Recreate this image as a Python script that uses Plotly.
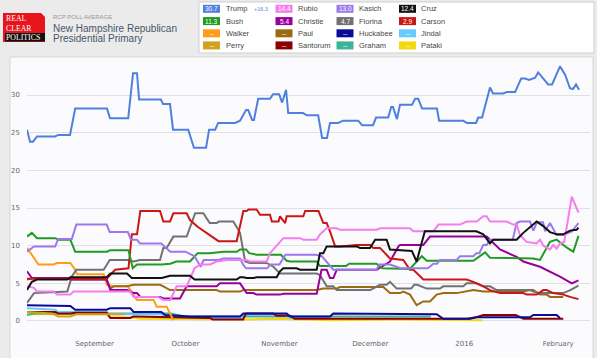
import pandas as pd
import plotly.graph_objects as go

BASE = pd.Timestamp("2015-09-01")

# RCP average, New Hampshire Republican primary.
# Each point: (days since 2015-09-01, percent)
trump = [(-22.3,25.4),(-21.3,23.8),(-20.3,23.8),(-19,24.5),(-13,24.5),(-12,24.7),(-8.1,24.7),(-6.4,28.2),(4.1,28.2),(5.1,26.9),(11.1,26.9),(12.7,32.9),(14,32.9),(14.7,29.4),(21.9,29.4),(22.6,28.8),(24.9,28.8),(25.9,25.4),(30.9,25.4),(32.8,23.0),(36.8,23.0),(37.8,25.4),(39.8,25.4),(40.8,26.3),(46.4,26.3),(48,26.6),(50,28.0),(50.7,28.0),(52,26.7),(52.6,26.7),(54,29.5),(57.9,29.5),(58.9,30.1),(60.9,30.1),(61.9,29.0),(63.2,30.7),(63.9,27.6),(68.8,27.6),(70.1,27.3),(73.8,27.3),(75.1,24.3),(76.7,24.3),(77.7,26.3),(80.4,26.3),(82,26.6),(87,26.6),(88.3,26.0),(91.9,26.0),(92.9,27.0),(96.9,27.0),(97.9,28.4),(98.5,28.4),(99.8,26.8),(100.8,28.7),(104.8,28.7),(105.8,29.5),(106.8,29.5),(108.1,28.2),(113,28.2),(113.7,26.6),(121.6,26.6),(122.9,26.3),(125.9,26.3),(126.6,27.0),(127.9,27.0),(130.5,31.0),(131.5,30.2),(134.8,30.2),(136.1,30.4),(138.8,30.4),(140.8,32.2),(142.1,32.2),(143.4,32.0),(145.4,32.3),(146.4,33.0),(149.7,31.4),(151,31.4),(153.6,33.8),(155.3,32.7),(156.9,30.9),(157.9,30.8),(158.9,31.4),(159.9,30.7)]
bush = [(-22.3,11.2),(-20.7,11.7),(-19,11.0),(-13,11.0),(-11.9,10.8),(-8,10.8),(-6.4,9.2),(4.1,9.2),(5.2,9.4),(11.2,9.4),(12.6,7.0),(14,7.5),(22,7.5),(25,7.6),(27,7.9),(31.5,7.9),(34,9.0),(38,9.0),(42.5,9.2),(47,9.2),(48,9.5),(50,9.5),(51,9.0),(53.5,8.8),(61.5,8.8),(63.4,8.0),(64.5,7.9),(73.3,7.9),(74.4,7.3),(83,7.3),(84,7.6),(93,7.6),(95,7.0),(104,6.9),(108,8.6),(109.6,8.0),(125,8.0),(128.9,9.1),(130.5,8.4),(144.8,8.3),(147,8.1),(150.3,10.5),(152.5,10.8),(156,9.7),(158,9.2),(159.7,11.3)]
kasich = [(-22.3,9.2),(-20,9.9),(-13,9.9),(-12,10.9),(-7.5,10.9),(-6,12.8),(4,12.8),(5,11.8),(11,11.8),(12,10.8),(14,10.8),(15,10.3),(22,10.3),(23,9.9),(25,9.2),(30,9.2),(33,8.6),(35,7.2),(36,8.1),(41,8.1),(42.5,8.3),(48,8.3),(49,7.5),(50,7.0),(57,7.0),(58,7.5),(61,7.5),(63,8.8),(73,8.8),(75,8.6),(78.8,6.8),(93,6.8),(94,7.5),(97.5,7.5),(101,7.0),(110,7.0),(111.8,7.6),(113,7.6),(114,8.1),(119.5,8.1),(120.6,8.6),(125,8.6),(126,9.0),(127,9.0),(128.3,10.1),(129.4,10.1),(130.5,10.8),(138,10.8),(139.3,13.0),(140.4,13.2),(143.7,13.2),(144.8,12.0),(146,13.1),(148,13.1),(148.7,11.9),(150.3,13.0),(152.5,11.4),(154.7,11.4),(157.5,11.9),(159.7,13.0)]
cruz = [(-22.3,4.1),(-20.7,5.2),(-19,5.5),(-9,5.5),(-8,5.8),(4,5.8),(5.2,6.3),(10.7,6.3),(12.3,5.7),(22.2,5.7),(24.9,6.0),(31.5,6.0),(33,5.5),(46.9,5.5),(48,5.8),(49.1,5.8),(50.2,5.7),(52.4,5.7),(53.5,5.8),(60.1,5.8),(61.2,6.6),(62.3,7.0),(66.7,7.0),(67.8,6.8),(73.3,6.8),(74.4,9.0),(75.5,9.0),(76.6,9.9),(86.5,9.9),(87.6,9.7),(90.9,9.7),(92.6,10.8),(96.4,10.8),(97.5,9.5),(104.7,9.3),(106.3,7.9),(109,11.9),(126,11.9),(128.3,11.5),(130.5,10.3),(131.6,10.8),(139.3,10.8),(141.5,11.7),(145.9,13.2),(148.1,12.6),(150.3,11.8),(152.5,11.5),(154.7,11.5),(156.9,12.0),(159.1,12.1),(159.7,12.4)]
christie = [(-22.3,6.6),(-20.7,5.7),(-9,5.7),(-8,5.5),(4,5.5),(5.2,4.1),(10.7,4.1),(12.9,3.7),(14,3.7),(15.1,3.2),(21.6,3.2),(22.7,3.0),(28.2,3.0),(30.4,4.6),(40.3,4.6),(41.4,5.0),(48,5.0),(50.2,3.7),(52.4,3.7),(53.5,3.5),(61.2,3.5),(62.3,3.6),(73.3,3.6),(74.9,6.8),(76.6,6.8),(77.7,5.7),(78.8,5.7),(79.9,6.8),(93.1,6.8),(97.5,7.9),(100.3,9.9),(100.8,10.1),(108.5,10.1),(109.6,10.6),(110.7,11.2),(129.4,11.2),(130.5,10.8),(133.8,9.5),(139.3,8.5),(141.5,7.9),(147,7.2),(150.3,6.6),(153.6,5.9),(157.5,5.0),(159.7,5.4)]
rubio = [(-22.3,4.6),(-20,4.4),(-19,3.9),(-13.5,3.9),(-12.4,3.5),(-8,3.5),(-7,3.9),(11.8,3.9),(12.9,3.2),(21,3.2),(22.7,2.8),(25,2.8),(27.1,4.6),(30.4,4.6),(33,7.0),(34.8,7.5),(38.1,7.5),(40.3,7.9),(43.6,8.1),(50.2,8.1),(51.3,7.9),(56.8,7.9),(57.9,9.0),(62.3,11.0),(67.8,11.0),(68.9,10.8),(73.3,10.8),(74.4,11.5),(76.6,12.3),(79.9,12.3),(81,12.1),(93.1,12.1),(94.2,12.3),(104.1,12.3),(105.2,11.9),(111.8,11.9),(113.5,12.8),(120.6,12.8),(122.8,13.2),(126.1,13.2),(128.3,13.9),(129.4,13.9),(130.5,13.2),(136,13.2),(138.2,12.8),(139.3,12.8),(140.4,11.4),(142.6,10.5),(145.9,10.3),(147,10.8),(148.1,10.0),(150.3,9.5),(151.4,10.1),(152.5,9.6),(153.6,10.3),(155,10.5),(157.5,16.5),(159.7,14.4)]
fiorina = [(-22.3,2.4),(-20,3.7),(-9,3.9),(-7.5,5.9),(-6,6.8),(3,6.8),(5,8.1),(11,8.1),(12.9,7.9),(15,8.1),(21.6,8.1),(22.7,9.7),(23.8,9.7),(26,11.2),(30.4,11.2),(33.2,14.3),(35.9,14.3),(38,13.0),(40.3,13.0),(41,13.2),(45.8,13.2),(48,11.7),(49.7,7.9),(51.3,7.7),(56.8,7.7),(59,7.2),(61.2,6.3),(73.3,6.3),(74.4,6.1),(76.6,4.6),(78.8,4.6),(79.9,4.1),(91,4.1),(94.2,4.8),(96.4,4.8),(97.5,5.2),(99.7,4.3),(104.5,4.3),(105.5,4.8),(106.5,4.8),(109.6,4.3),(114,4.3),(115.1,4.6),(121.7,4.6),(122.8,5.0),(126,5.0),(128.3,4.6),(130.5,4.6),(132.7,4.1),(143.7,4.1),(144.8,3.9),(147,3.7),(154.7,3.7),(157,4.1),(159.7,4.7)]
carson = [(-22.3,5.6),(4,5.6),(6.8,6.8),(11.2,7.0),(12.3,11.5),(14,11.5),(15.1,14.6),(21.6,14.6),(22.7,13.2),(24.9,13.2),(26,14.3),(30.4,14.3),(31.5,13.4),(34,12.5),(40.9,10.6),(46.9,10.6),(49.1,14.6),(50.2,14.6),(50.8,14.8),(53.5,14.8),(54.6,14.1),(57.9,14.1),(58.5,13.2),(60.7,13.2),(61.2,13.9),(62.9,13.0),(63.4,13.9),(68.9,13.9),(69.5,14.6),(73.9,14.6),(75.5,13.0),(76.6,13.0),(77.7,11.9),(79.4,9.9),(81,9.9),(86.5,10.1),(90.9,10.1),(92,9.7),(94.2,9.7),(97.5,8.3),(101.9,8.1),(104.1,6.8),(105.2,6.8),(108.5,5.5),(122.8,5.5),(125,5.2),(128.3,4.6),(130.5,4.1),(133.8,3.7),(141.5,3.7),(142.6,3.5),(145.9,3.5),(148.1,4.1),(149.2,4.1),(151.4,3.7),(154.7,3.5),(156.9,3.2),(159.7,2.9)]
walker = [(-22.3,9.7),(-20,8.3),(-18.5,7.5),(-13.5,7.5),(-12.4,7.7),(-8,7.7),(-6.4,6.8),(-5.8,6.2),(3,6.2),(4.1,4.8),(6,4.6),(11,4.6),(14,2.8),(19.5,2.8),(20.5,1.9),(23.8,1.9),(26,0.1)]
paul = [(-22.3,5.5),(-20,5.7),(-9,5.7),(-8,5.5),(4,5.5),(5.2,4.3),(6.3,4.6),(10.7,4.6),(12.9,4.8),(21.6,4.8),(22.7,4.6),(24.9,4.1),(40.3,4.1),(41.4,3.9),(48,3.9),(49.1,4.1),(73.3,4.1),(75.5,4.3),(79.9,4.3),(81,4.5),(95.3,4.5),(97.5,3.7),(100.8,3.7),(101.9,3.9),(104.1,3.5),(106.3,2.1),(108.5,2.6),(110.7,2.6),(112.9,3.5),(115.1,3.7),(119.5,3.7),(123.9,4.1),(125,4.1),(128.3,3.9),(141.5,3.9),(143.7,4.1),(144.8,4.1),(147,3.5),(149.2,3.5),(150.3,3.2),(154.7,3.2)]
huckabee = [(-22.3,2.1),(-8,2.0),(-6.4,1.5),(4,1.5),(5.2,1.7),(11.8,1.7),(12.9,1.2),(22,1.2),(23.3,0.8),(31.5,0.6),(48,0.6),(49.1,1.0),(63.4,1.0),(64.5,0.6),(77.7,0.6),(78.8,1.0),(112.9,0.9),(115.1,0.3),(123.9,0.3),(126,0.5),(143.7,0.5),(144.8,0.8),(152.5,0.8),(153.6,0.4)]
jindal = [(-22.3,1.7),(-13,1.5),(-12,1.2),(4,1.2),(5,0.9),(22,0.9),(23,0.6),(34.8,0.4),(48,0.4),(49,0.8),(63,0.8),(64.5,0.4),(77,0.4)]
perry = [(-22.3,1.2),(-14,1.0),(-12,0.6),(-8,0.6),(-6,0.9),(10,0.9)]
santorum = [(-22.3,1.2),(-13,1.2),(-12,1.0),(-8,1.0),(-6.4,1.1),(4,1.1),(5.2,0.4),(11.8,0.4),(12.9,0.6),(31.5,0.5),(38,0.4),(39,0.2),(49,0.2),(50,1.0),(59,1.0),(60,0.7),(64.5,0.7),(66,0.3),(123,0.3),(126,0.5),(128.3,0.8),(139,0.8),(141.5,0.3),(154.7,0.3)]
graham = [(-22.3,0.8),(-20,1.0),(25,1.0),(30,0.6),(100,0.6),(111,0.6)]
pataki = [(-22.3,0.9),(4,0.9),(5.2,0.5),(12,0.5),(15,0.3),(50,0.2),(60,0.3),(78,0.1),(100,0.2),(128,0.1)]

# legend grid (row-major), with latest values
legend_names = ["Trump", "Rubio", "Kasich", "Cruz",
                "Bush", "Christie", "Fiorina", "Carson",
                "Walker", "Paul", "Huckabee", "Jindal",
                "Perry", "Santorum", "Graham", "Pataki"]
legend_values = ["30.7", "14.4", "13.0", "12.4",
                 "11.3", "5.4", "4.7", "2.9",
                 "--", "--", "--", "--",
                 "--", "--", "--", "--"]
trump_spread = "+16.3"

colors = {
    "Trump": "#4f80de", "Rubio": "#f47cee", "Kasich": "#9c78ec", "Cruz": "#111111",
    "Bush": "#1f9a22", "Christie": "#990099", "Fiorina": "#727272", "Carson": "#cc1616",
    "Walker": "#ff9c1a", "Paul": "#9c6a10", "Huckabee": "#0b0b99", "Jindal": "#66ccff",
    "Perry": "#d2a21a", "Santorum": "#8e0000", "Graham": "#3db39a", "Pataki": "#f3d80c",
}
series = {
    "Trump": trump, "Rubio": rubio, "Kasich": kasich, "Cruz": cruz,
    "Bush": bush, "Christie": christie, "Fiorina": fiorina, "Carson": carson,
    "Walker": walker, "Paul": paul, "Huckabee": huckabee, "Jindal": jindal,
    "Perry": perry, "Santorum": santorum, "Graham": graham, "Pataki": pataki,
}
draw_order = ["Pataki", "Graham", "Jindal", "Santorum", "Perry", "Huckabee", "Walker",
              "Paul", "Fiorina", "Christie", "Carson", "Bush", "Kasich", "Rubio", "Cruz", "Trump"]

y_ticks = [0, 5, 10, 15, 20, 25, 30]
month_ticks = ["2015-09-01", "2015-10-01", "2015-11-01", "2015-12-01", "2016-01-01", "2016-02-01"]
month_labels = ["September", "October", "November", "December", "2016", "February"]

W, H = 597, 358
L, R, T, B = 27, 7, 60, 20
PW, PH = W - L - R, H - T - B

def px(x):
    return (x - L) / PW

def py(y):
    return (H - B - y) / PH

fig = go.Figure()
for name in draw_order:
    pts = series[name]
    xs = [BASE + pd.Timedelta(days=d) for d, _ in pts]
    ys = [v for _, v in pts]
    fig.add_trace(go.Scatter(x=xs, y=ys, mode="lines", name=name,
                             line=dict(color=colors[name], width=2),
                             showlegend=False, hoverinfo="skip"))

shapes = []
annotations = []
# chart panel
shapes.append(dict(type="rect", xref="paper", yref="paper", layer="below",
                   x0=px(10), x1=px(593), y0=py(57), y1=py(360),
                   fillcolor="#fbfbfe", line=dict(color="#d6d6d6", width=1)))
# logo
shapes.append(dict(type="path", xref="paper", yref="paper",
                   path=f"M {px(3)},{py(13)} L {px(41)},{py(13)} L {px(45)},{py(17)} L {px(45)},{py(42)} L {px(3)},{py(42)} Z",
                   fillcolor="#e8141b", line=dict(width=0)))
shapes.append(dict(type="rect", xref="paper", yref="paper",
                   x0=px(5), x1=px(45), y0=py(33), y1=py(41.5),
                   fillcolor="#111111", line=dict(width=0)))
annotations.append(dict(xref="paper", yref="paper", x=px(5), y=py(23.3), text="REAL<br>CLEAR",
                        showarrow=False, xanchor="left", yanchor="middle", align="left",
                        borderpad=0,
                        font=dict(family="Liberation Serif", size=7.8, color="white")))
annotations.append(dict(xref="paper", yref="paper", x=px(5), y=py(37.5), text="POLITICS",
                        showarrow=False, xanchor="left", yanchor="middle", borderpad=0,
                        font=dict(family="Liberation Serif", size=7.8, color="white")))
annotations.append(dict(xref="paper", yref="paper", x=px(51), y=py(17), text="RCP POLL AVERAGE",
                        showarrow=False, xanchor="left", yanchor="middle",
                        font=dict(family="Liberation Sans", size=6, color="#959595")))
annotations.append(dict(xref="paper", yref="paper", x=px(51), y=py(28.5), text="New Hampshire Republican",
                        showarrow=False, xanchor="left", yanchor="middle",
                        font=dict(family="Liberation Sans", size=10, color="#4a5668")))
annotations.append(dict(xref="paper", yref="paper", x=px(51), y=py(38.5), text="Presidential Primary",
                        showarrow=False, xanchor="left", yanchor="middle",
                        font=dict(family="Liberation Sans", size=10, color="#4a5668")))
# legend box
shapes.append(dict(type="rect", xref="paper", yref="paper",
                   x0=px(199), x1=px(594), y0=py(53), y1=py(2),
                   fillcolor="white", line=dict(color="#cfcfcf", width=1)))
col_x = [203, 275.5, 336.5, 399]
row_y = [8.8, 21.1, 33.3, 45.4]
for i, name in enumerate(legend_names):
    r, c = divmod(i, 4)
    x0, yc = col_x[c], row_y[r]
    shapes.append(dict(type="rect", xref="paper", yref="paper",
                       x0=px(x0), x1=px(x0 + 17), y0=py(yc + 4), y1=py(yc - 4),
                       fillcolor=colors[name], line=dict(width=0)))
    annotations.append(dict(xref="paper", yref="paper", x=px(x0 + 8.5), y=py(yc), text=legend_values[i],
                            showarrow=False, xanchor="center", yanchor="middle",
                            font=dict(family="Liberation Sans", size=6.5, color="white")))
    annotations.append(dict(xref="paper", yref="paper", x=px(x0 + 20.5), y=py(yc), text=name,
                            showarrow=False, xanchor="left", yanchor="middle",
                            font=dict(family="Liberation Sans", size=7.5, color="#474747")))
annotations.append(dict(xref="paper", yref="paper", x=px(251.5), y=py(8.6), text=trump_spread,
                        showarrow=False, xanchor="left", yanchor="middle",
                        font=dict(family="Liberation Sans", size=5.5, color="#5b86d8")))

x_start = BASE + pd.Timedelta(days=-22.3)
x_end = BASE + pd.Timedelta(days=-22.3 + PW / 3.03)

fig.update_layout(
    width=W, height=H, autosize=False,
    margin=dict(l=L, r=R, t=T, b=B, pad=0),
    paper_bgcolor="#ebebeb", plot_bgcolor="rgba(0,0,0,0)",
    font=dict(family="DejaVu Sans", size=7, color="#666666"),
    shapes=shapes, annotations=annotations, showlegend=False,
    xaxis=dict(range=[x_start, x_end], tickvals=month_ticks, ticktext=month_labels,
               showgrid=False, zeroline=False, showline=False, ticks="",
               tickfont=dict(family="DejaVu Sans", size=7, color="#666666")),
    yaxis=dict(range=[-2.26, 34.65], tickvals=y_ticks, ticktext=[str(v) for v in y_ticks],
               showgrid=True, gridcolor="#e0e0e6", gridwidth=1, zeroline=False,
               showline=False, ticks="", ticklabelstandoff=6,
               tickfont=dict(family="DejaVu Sans", size=7, color="#666666")),
)

fig.write_html("out.html", config={"displayModeBar": False},
               post_script="document.body.style.margin='0px';document.body.style.overflow='hidden';")
